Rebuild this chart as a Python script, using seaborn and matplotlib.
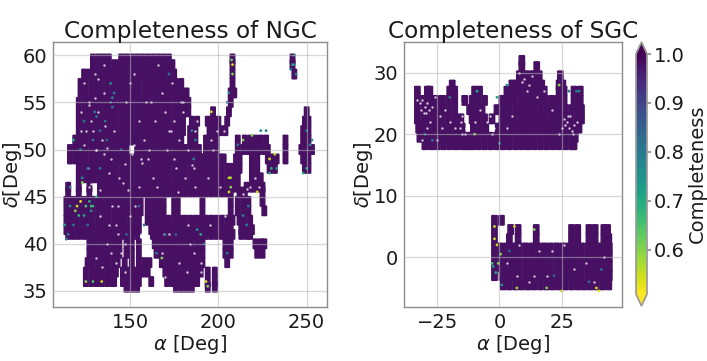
import numpy as np
import pandas as pd
import matplotlib
matplotlib.use("Agg")
import matplotlib.pyplot as plt
from matplotlib.colors import Normalize
from matplotlib.markers import MarkerStyle
from matplotlib.cm import ScalarMappable
import seaborn as sns

# NGC footprint: RA samples along rows of declination
n596 = [129,132,135,138,145,148,151,154,157,160,163,166,169,172,208,242]
n59 = [129,132,135,138,141,144,147,150,153,156,159,162,165,168,171,174,208,242]
n58 = [124,127,130,133,136,139,142,145,148,151,154,157,160,163,166,169,172,175,208,243]
n57 = [122,125,128,131,134,137,140,143,146,149,152,155,158,161,164,167,170,173,176,179,208]
n56 = [122,125,128,131,134,137,140,143,146,149,152,155,158,161,164,167,170,173,176,179,182,207,209]
n55 = [121,124,127,130,133,136,139,142,145,148,151,154,157,160,163,166,169,172,175,178,181,183,207]
n54 = [121,124,127,130,133,136,139,142,145,148,151,154,157,160,163,166,169,172,175,178,181,183,197,206,250]
n53 = [121,124,127,130,133,136,139,142,145,148,151,154,157,160,163,166,169,172,175,178,180,185,188,194,197,200,205,249,251]
n52 = [121,124,127,130,133,136,139,142,145,148,151,154,157,160,163,166,169,172,175,178,180,184,187,195,198,201,204,248,251]
n51 = [119,122,125,128,131,134,137,140,143,146,149,152,155,158,161,164,167,170,173,176,179,184,187,193,196,199,211,215,218,221,224,227,238,248,251]
n50 = [116,119,122,125,128,131,134,137,140,143,146,148,154,157,160,163,166,169,172,175,178,181,184,187,189,193,196,199,211,214,217,220,223,226,228,238,247,250,253]
n49 = [116,119,122,125,128,131,134,137,140,143,146,149,152,155,158,161,164,167,170,173,176,179,182,185,188,190,192,195,198,201,203,210,212,219,222,228,231,233,238,248,251]
n48 = [121,124,127,130,133,136,139,142,145,148,151,154,157,160,163,166,169,172,175,178,181,184,187,190,193,196,199,202,205,207,210,212,219,222,229,232,249,251]
n47 = [121,124,127,130,133,136,139,142,145,148,151,154,157,160,163,166,169,172,175,178,181,184,187,190,193,196,199,202,205,208,211,219,222,224]
n46 = [115,121,127,133,136,139,142,145,148,151,154,157,160,163,166,169,172,175,178,181,184,187,190,193,196,199,202,205,208,211,216,219,222,225]
n455 = [115,121,127,133,136,139,142,145,148,151,154,157,160,163,166,169,172,175,178,181,184,187,190,193,196,199,202,205,207,212,215,225]
n445 = [114,117,120,123,126,129,132,135,138,141,144,147,150,153,156,160,163,166,169,175,177,191,207,211,214,217,225]
n435 = [114,117,120,123,126,129,132,135,138,141,144,147,150,153,156,160,163,166,169,175,177,191,207,211,214,217,226]
n425 = [114,117,120,123,126,129,132,135,138,141,144,147,150,153,155,160,163,166,169,172,175,178,181,184,187,190,193,196,199,202,205,208,212,215,218]
n415 = [114,117,120,123,126,129,132,135,138,141,144,147,150,153,155,162,165,168,171,174,177,180,183,186,189,192,195,198,201,204,207,213,216,219]
n41 = [115,118,121,124,127,130,133,136,139,142,145,148,151,154,163,166,169,172,175,178,181,184,187,190,193,196,199,202,205,208,213,216,218]
n40 = [127,130,133,136,139,142,144,148,151,155,164,167,170,173,176,179,182,185,188,191,204,207,221,224,226]
n39 = [127,130,133,136,139,142,144,148,151,155,165,168,171,174,177,180,183,186,189,191,204,207,222,225]
n38 = [126,129,132,135,138,141,143,147,151,155,158,161,168,171,174,177,180,183,186,189,191,205]
n37 = [125,128,131,134,137,140,142,146,149,152,155,157,160,170,173,176,179,182,185,188,190,194,198]
n36 = [125,128,131,134,137,140,141,146,149,152,155,162,171,174,177,180,183,186,188,194,198]
n354 = [148,151,154,176,179,182,185,194,198]
ngc_dec = [59.6,59,58,57,56,55,54,53,52,51,50,49,48,47,46,45.5,44.5,43.5,42.5,41.5,41,40,39,38,37,36,35.4]
ngc_ra = [n596,n59,n58,n57,n56,n55,n54,n53,n52,n51,n50,n49,n48,n47,n46,n455,n445,n435,n425,n415,n41,n40,n39,n38,n37,n36,n354]
fill_completeness = 0.98

# NGC pointings with lower completeness
ngc_low_ra = [120,122,119,125,127,128,116,123,208,208,207.5,243,241,206,207,206,232,229,230,214,219,196,125,129,134,168,193,194,190,188,250,252,140,130,122,118,133,145,124,128,121,139,126,222,227,211,205,207,136,170,
              141,139,140,131,133,129,124,123,126,129,131,118,115,114,116,113,172,176,186,187,206,205,243,242,244,217,224,229,233,248,253,250,155,165,137,148,158,185,192,214,216]
ngc_low_dec = [44,44.5,43.5,44,44.5,43.5,44,46.5,59,58,59.5,59,58.5,47,46,45.5,49.5,49,48,51,51.5,54,36,36,36,38.5,36,35.5,41,41.5,48,50.5,55.5,54,50,51,48,50,43,44,43,57,42,45.5,52,50.5,39,47,53,41,
               56,55,54.5,53.5,52,51,53,47,48,44,45,42,41,40.5,46,42,58,41,49,51,56,55,60,59,58,44,52,47.5,48,47.5,51,52,44,39,51,41,42,52,40,43,42]
ngc_low_c = [.55,.52,.6,.65,.7,.75,.75,.6,.55,.6,.62,.8,.8,.55,.6,.55,.55,.55,.7,.6,.6,.55,.6,.65,.55,.6,.55,.6,.7,.75,.7,.75,.78,.8,.8,.7,.8,.85,.72,.66,.68,.76,.82,.55,.78,.82,.8,.58,.82,.84,
             .78,.8,.82,.8,.84,.82,.8,.78,.82,.68,.7,.8,.78,.8,.78,.72,.82,.84,.78,.8,.75,.8,.75,.72,.78,.8,.78,.72,.75,.7,.78,.8,.85,.8,.84,.85,.82,.8,.85,.78,.8]

# SGC footprint
s32 = [9]
s31 = [9,15]
s295 = [8,10,12,14,16,24.5]
s28 = [-19,5,7,9.5,12,14.5,17,24,25.5]
s27 = [-33,-29,-28,-20,-18,-10,-8,3,5.5,8,10.5,13,15.5,18,24,26,30,32.5]
s255 = [-33,-30.5,-28,-25.5,-23,-20.5,-18,-14,-11,-8.5,-6,1,3.5,6,8.5,11,13.5,16,18.5,21,23.5,26,30,32.5]
s24 = [-33,-30.5,-28,-25.5,-23,-20.5,-18,-12,-9.5,-7,-1,1.5,4,6.5,9,11.5,14,16.5,19,21.5,24,26.5,29,31.5,33]
s225 = [-33,-30.5,-28,-25.5,-23,-20.5,-18,-15.5,-11,-8.5,-6,-3,1,3.5,6,8.5,11,13.5,16,18.5,21,23.5,26,28.5,31,33]
s21 = [-32.5,-30,-27.5,-25,-22.5,-20,-17.5,-15,-10.5,-8,-5.5,-0.5,2,4.5,7,9.5,12,14.5,17,19.5,22,24.5,27,29.5,32]
s195 = [-32,-29.5,-27,-24.5,-22,-19.5,-17,-14.5,-13,-11,-8.5,-6,-3.5,-1,1.5,4,6.5,9,11.5,14,16.5,19,21.5,24,26.5,29,30.5]
s183 = [-30,-27.5,-25,-22.5,-20,-17.5,-15,-13,-11,-8.5,-6,-3.5,-1,1.5,4,6.5,9,11.5,14,16.5,19,21.5,24,26.5,29,30]
s6 = [-2,0.8]
s45 = [-2,4.5,7.5,14.8,29,31.5,36,38.5,42,43.5]
s3 = [-2,4,7.5,14.8,29,31.5,36,38.5,42,44]
s15 = [-2,0.5,3,5.5,8,10.5,13,15.5,18,20.5,23,25.5,28,30.5,33,35.5,38,40.5,43,44.2]
s0 = [-2,0.5,3,5.5,8,10.5,13,15.5,18,20.5,23,25.5,28,30.5,33,35.5,38,40.5,43,44.2]
sm15 = [-2,0.5,3,5.5,8,10.5,13,15.5,18,20.5,23,25.5,28,30.5,33,35.5,38,40.5,43,44.2]
sm3 = [-2,1,3,5.5,8,10.5,13,15.5,18,20.5,23,25.5,28,30.5,33,35.5,38,40.5,43,44.2]
sm45 = [1.5,4,6.5,9,11.5,14,16.5,19,21.5,24,26.5,29,31.5,34,36.5,39,41.5,44]
sgc_dec = [32,31,29.5,28,27,25.5,24,22.5,21,19.5,18.3,6,4.5,3,1.5,0,-1.5,-3,-4.5]
sgc_ra = [s32,s31,s295,s28,s27,s255,s24,s225,s21,s195,s183,s6,s45,s3,s15,s0,sm15,sm3,sm45]

sgc_low_ra = [-1,-0.5,-2,-1.5,-2.5,0.5,6,14,25,39,40,24,19,7,-10,-3,1,31,-20,0,3,32,-9,-27,-30,4,22,41,36,28,-1,-2]
sgc_low_dec = [2,-1,3,-2.5,-1.5,0.5,5,4.5,-5.5,-5,-5.5,28,-5,-5,20,-1,-4.5,27,26,18.5,28,27,27,19,20,1,-3,-2,-4,27,26,5]
sgc_low_c = [.55,.6,.55,.7,.72,.6,.55,.6,.55,.55,.52,.6,.6,.58,.6,.65,.75,.8,.8,.75,.72,.75,.7,.8,.82,.84,.85,.82,.84,.8,.72,.55]

# Empty spots inside the footprints
ngc_gap_ra = [130,132,129,131,152,151,156,157,186,185,128,127,129,133,131,135,134,137,139,136,141,138,132,130,135,128,127,
              146,149,144,147,143,142,150,155,160,158,164,162,168,172,174,166,170,176,178,181,175,179,183,187,197,199,194,201,
              203,218,216,214,221,223,142,139,134,137,131,145,147,153,156,168,172,178,183,186,190,173,180,185,165,159,152,126,124,122,
              163,171,177,188,196,133,140,143,138,147,170,182,190,195,204,148,155,161,175,180,187,124,127,122,125,135,150,169,184]
ngc_gap_dec = [58,57.5,52,50,50.5,49.5,49,48.6,48,48.4,46.3,46,45.4,45.7,50,49.5,51,50.2,49,52.5,52,47.5,54,55.5,56,53,54.7,
               46.5,45.7,47,48.5,44,42,43,46,49,51,53,55,56,52,57,59,54,48,51,47,53,55,50,46,50,52,47,46,
               52,46,45.8,45.3,47,46,38,39,37.5,40,38.5,39,40,44,41,39,41,38,42,39,37,52,54,57,46,55,58,48,50.5,52,
               47,50,45.5,53,51,43,44,41,42,37,36.5,37,38,42,43,55,53,50,49,55,52,57,55,54,52,59,57,41,40]
sgc_gap_ra = [-33,-32,-31,-30,-29,-28.5,-31.5,-30.5,-29.5,-27,-28,-26,-24,-20,-18,-16,-14.5,-15,-15.5,-16,-13.5,-14,-14,-15,-5,-4,-3,-2,
              26,27,28,29,30,27.5,28.5,26.5,25,24,29.5,31,8,9,10,11,12,13,15,5,3,18,21,-8,-10,-22,-25,-29,-23,-31,
              3,8,14,21,30,38,42,12,26,35,19,7,16]
sgc_gap_dec = [25.5,25,25.5,24.5,25,24,24,23.5,23.5,24.5,22,26,23,22,21,25,24,23,22,21,21,22.5,20,20,22,23,20,21,
               22.5,22,21,20.5,21.5,23,23,21.5,21,20,20,22,30,28.5,29,27,28,29.5,26,23,21,27,24,24,22,24,19,21,21,19,
               -1,2,-3,1,-2,-4,0,-4,2,-1,-3,-3,1]

ticks_cb = [0.6, 0.7, 0.8, 0.9, 1.0]
vmin, vmax = 0.51, 1.0


def frame(dec_rows, ra_rows):
    rows = [pd.DataFrame({"ra": r, "dec": d, "c": fill_completeness})
            for d, r in zip(dec_rows, ra_rows)]
    return pd.concat(rows, ignore_index=True)


def tile(w):
    return MarkerStyle([(-w, -0.9), (-w * 0.7, -1), (w * 0.7, -1), (w, -0.9), (w, 0.9), (w * 0.7, 1), (-w * 0.7, 1), (-w, 0.9)])


sns.set_theme(style="white")
plt.rcParams["font.family"] = ["DejaVu Sans"]
plt.rcParams["mathtext.fontset"] = "dejavusans"
W, H = 707, 361
fig = plt.figure(figsize=(W / 100, H / 100), dpi=100)


def place(x0, x1, y0, y1):
    return fig.add_axes([x0 / W, 1 - y1 / H, (x1 - x0) / W, (y1 - y0) / H])


ax1 = place(53, 327, 42, 307)
ax2 = place(404, 622, 42, 307)
norm = Normalize(vmin, vmax)
dot_style = dict(hue="c", palette="viridis_r", hue_norm=norm, legend=False, linewidth=0)

for ax, w, dec, ra, lra, ldec, lc, gra, gdec in [
    (ax1, 0.54, ngc_dec, ngc_ra, ngc_low_ra, ngc_low_dec, ngc_low_c, ngc_gap_ra, ngc_gap_dec),
    (ax2, 0.62, sgc_dec, sgc_ra, sgc_low_ra, sgc_low_dec, sgc_low_c, sgc_gap_ra, sgc_gap_dec),
]:
    sns.scatterplot(data=frame(dec, ra), x="ra", y="dec", marker=tile(w), s=62, ax=ax, **dot_style)
    sns.scatterplot(x=gra, y=gdec, marker="o", s=3, color="white", alpha=0.75, linewidth=0, ax=ax)
    low = pd.DataFrame({"ra": lra, "dec": ldec, "c": lc})
    sns.scatterplot(data=low, x="ra", y="dec", marker="o", s=4, ax=ax, **dot_style)
    ax.grid(True, color="#b8b8b8", lw=0.9, alpha=0.55)
    ax.set_axisbelow(False)
    ax.tick_params(labelsize=14, length=0, pad=4, colors="#1a1a1a")
    for sp in ax.spines.values():
        sp.set_color("#8c8c8c")
        sp.set_linewidth(1.0)
    ax.set_xlabel(r"$\alpha$ [Deg]", fontsize=14, labelpad=1, color="#1a1a1a")
    ax.set_ylabel(r"$\delta$[Deg]", fontsize=14, labelpad=-1, color="#1a1a1a")

ax1.set_xlim(106.4, 261.5)
ax1.set_ylim(33.3, 61.4)
ax1.set_xticks([150, 200, 250])
ax1.set_yticks([35, 40, 45, 50, 55, 60])
ax1.set_title("Completeness of NGC", fontsize=16.7, pad=3, color="#1a1a1a")
ax2.set_xlim(-38.4, 49.3)
ax2.set_ylim(-8.1, 35)
ax2.set_xticks([-25, 0, 25])
ax2.set_yticks([0, 10, 20, 30])
ax2.set_title("Completeness of SGC", fontsize=16.7, pad=3, color="#1a1a1a")

cax = place(636, 647, 42, 306)
sm = ScalarMappable(norm=norm, cmap="viridis_r")
cb = fig.colorbar(sm, cax=cax, extend="both", extendfrac=0.05)
cb.set_ticks(ticks_cb)
cb.ax.tick_params(labelsize=14, length=3, color="#8c8c8c", pad=2, labelcolor="#1a1a1a")
cb.outline.set_edgecolor("#9a9a9a")
cb.set_label("Completeness", fontsize=14, labelpad=2, color="#1a1a1a")

fig.savefig("out.png", dpi=100)
